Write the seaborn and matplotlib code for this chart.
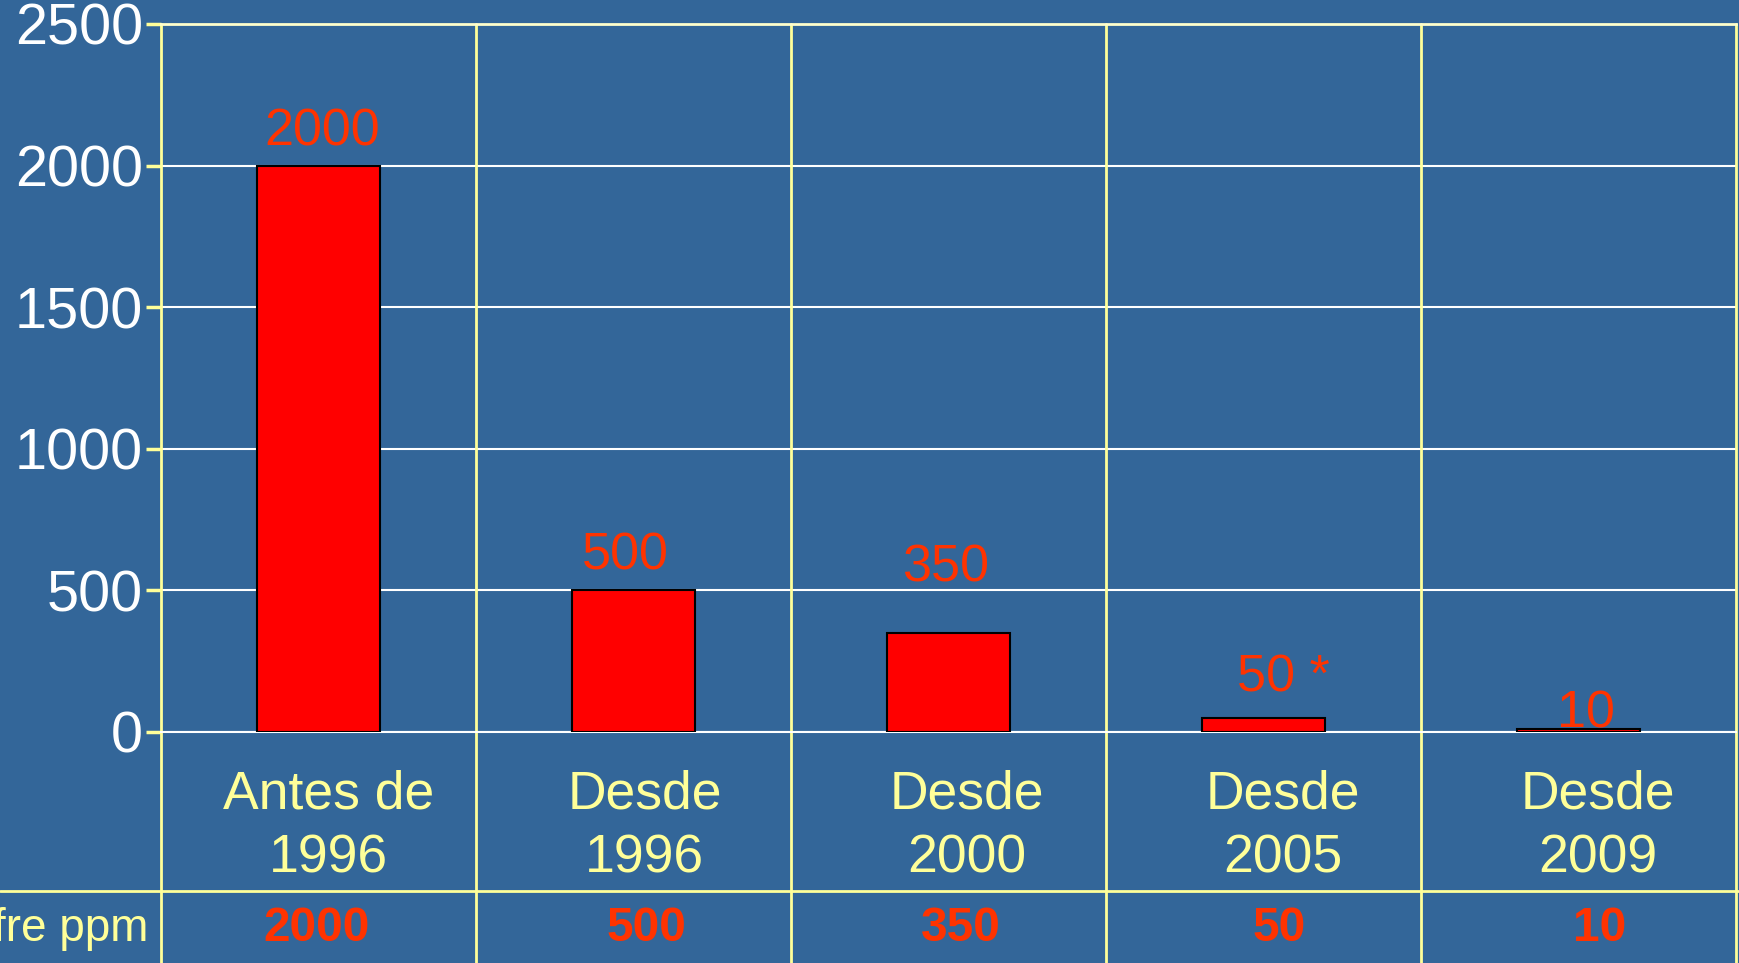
import matplotlib
matplotlib.use("Agg")
import matplotlib.pyplot as plt
import matplotlib.transforms as mtransforms
from matplotlib.lines import Line2D
import pandas as pd
import seaborn as sns

# === Data ===
categories = ["Antes de\n1996", "Desde\n1996", "Desde\n2000", "Desde\n2005", "Desde\n2009"]
sulfur_ppm = [2000, 500, 350, 50, 10]
bar_labels = ["2000", "500", "350", "50 *", "10"]
table_title = "Azufre ppm"
table_values = ["2000", "500", "350", "50", "10"]
yticks = [0, 500, 1000, 1500, 2000, 2500]

# label nudges (points) - the original slide has hand-placed labels
label_dx = [2.4, -5.6, -2.4, 14, 5.6]
label_dy = [24.5, 25, 47, 29, 10.8]
cat_dx = [7, 8, 13, 14, 14]
table_dx = [-1.5, 9.5, 8.5, 11.5, 15]

# === Style ===
bg = "#336699"
yellow = "#FFFF99"
red_txt = "#FF3300"

sns.set_style("white", {"axes.facecolor": bg, "figure.facecolor": bg})
plt.rcParams["font.family"] = ["Liberation Sans", "DejaVu Sans"]

df = pd.DataFrame({"period": categories, "ppm": sulfur_ppm})

fig = plt.figure(figsize=(17.39, 9.63), dpi=100, facecolor=bg)
ax = fig.add_axes([0.0926, 0.2399, 0.9057, 0.7352])
ax.set_facecolor(bg)

sns.barplot(data=df, x="period", y="ppm", color="#FF0000", edgecolor="black",
            linewidth=1.5, width=0.39, saturation=1, ax=ax, zorder=3)

ax.set_ylim(0, 2500)
ax.set_xlim(-0.5, len(categories) - 0.5)
ax.set_yticks(yticks)
ax.set_xlabel("")
ax.set_ylabel("")

# grid: white horizontals, yellow verticals running down through the table
ax.yaxis.grid(True, color="white", linewidth=1.5, zorder=0)
ax.set_axisbelow(True)
for b in range(len(categories) + 1):
    ax.axvline(b - 0.5, ymin=-0.33, ymax=1, color=yellow, linewidth=2,
               clip_on=False, zorder=1)

for side in ["left", "right"]:
    ax.spines[side].set_visible(False)
ax.spines["top"].set_color("#FFFFCC")
ax.spines["top"].set_linewidth(2)
ax.spines["bottom"].set_color("white")
ax.spines["bottom"].set_linewidth(1.5)

ax.tick_params(axis="y", colors=yellow, length=11, width=2.5, pad=2,
               labelcolor="white", labelsize=41.5, left=True)
ax.tick_params(axis="x", length=0, pad=27, labelcolor=yellow, labelsize=38.5)
ax.set_xticks(range(len(categories)))
ax.set_xticklabels(categories, linespacing=1.37)
for lbl, dx in zip(ax.get_xticklabels(), cat_dx):
    lbl.set_transform(lbl.get_transform() +
                      mtransforms.ScaledTranslation(dx / 72, 0, fig.dpi_scale_trans))

# value labels above bars
for i, (v, txt) in enumerate(zip(sulfur_ppm, bar_labels)):
    ax.annotate(txt, xy=(i, v), xytext=(label_dx[i], label_dy[i]),
                textcoords="offset points", ha="center", va="center",
                color=red_txt, fontsize=37.5, zorder=5)

# data table row
fig.add_artist(Line2D([0, 1], [0.0745, 0.0745], transform=fig.transFigure,
                      color=yellow, linewidth=2))
trans = mtransforms.blended_transform_factory(ax.transData, fig.transFigure)
for i, txt in enumerate(table_values):
    ax.text(i, 0.0358, txt, transform=trans + mtransforms.ScaledTranslation(
                table_dx[i] / 72, 0, fig.dpi_scale_trans),
            ha="center", va="center", color=red_txt, fontsize=34.5,
            fontweight="bold", clip_on=False)
# row title runs off the left edge, as on the original slide
fig.text(0.0851, 0.0358, table_title, ha="right", va="center",
         color=yellow, fontsize=33)

fig.savefig("out.png", dpi=100, facecolor=bg)
